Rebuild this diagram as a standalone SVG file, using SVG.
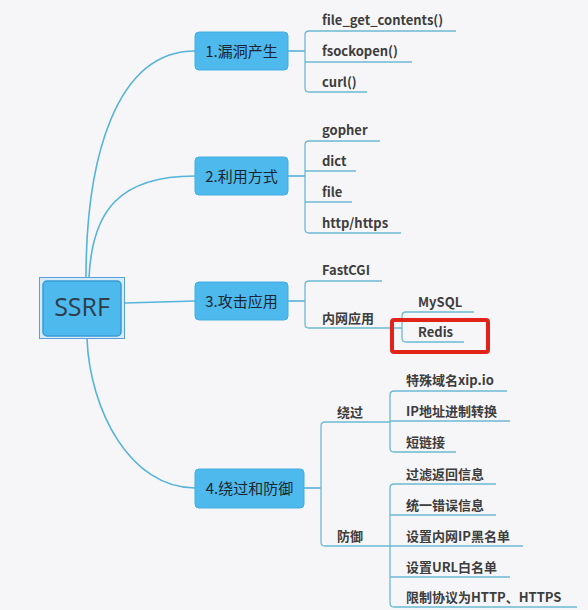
<svg xmlns="http://www.w3.org/2000/svg" width="588" height="610" viewBox="0 0 588 610">
<style>
.bg{fill:#f6f6f8}
.box{fill:#4db9ec;stroke:#45ace0;stroke-width:1}
.bt{font-family:"Noto Sans CJK SC","Noto Sans",sans-serif;font-size:15px;fill:#1c2630;text-anchor:middle}
.lt{font-family:"Noto Sans CJK SC","Noto Sans",sans-serif;font-size:13px;font-weight:bold;fill:#3d3d3d}
.con{fill:none;stroke:#56b3d9;stroke-width:1.6}
.ul{fill:none;stroke:#6cb9d4;stroke-width:1.3}
</style>
<rect class="bg" x="0" y="0" width="588" height="610"/>
<g id="connectors">
  <path class="con" d="M86,278 C86,160 115,51 195,51"/>
  <path class="con" d="M89,278 C92,210 120,176 195,176"/>
  <path class="con" d="M125,303 L195,301"/>
  <path class="con" d="M87,339 C90,410 130,488 195,488"/>
  <path class="con" d="M288,51 H305"/>
  <path class="con" d="M288,176 H305"/>
  <path class="con" d="M288,301 H305"/>
  <path class="con" d="M304,488 H321"/>
  <!-- bracket 1 -->
  <path class="ul" d="M456,31 H309 Q305,31 305,35 V88 Q305,92 309,92 H367"/>
  <path class="ul" d="M305,62 H412"/>
  <!-- bracket 2 -->
  <path class="ul" d="M380,141 H309 Q305,141 305,145 V229 Q305,233 309,233 H401"/>
  <path class="ul" d="M305,171 H356"/>
  <path class="ul" d="M305,202 H352"/>
  <!-- bracket 3 -->
  <path class="ul" d="M382,281 H309 Q305,281 305,285 V324 Q305,328 309,328 H402"/>
  <path class="ul" d="M474,312 H406 Q402,312 402,316 V338 Q402,342 406,342 H464"/>
  <!-- bracket 4 -->
  <path class="ul" d="M390,422 H325 Q321,422 321,426 V542 Q321,546 325,546 H390"/>
  <path class="ul" d="M507,391 H394 Q390,391 390,395 V448 Q390,452 394,452 H456"/>
  <path class="ul" d="M390,421 H510"/>
  <path class="ul" d="M496,484 H394 Q390,484 390,488 V603 Q390,607 394,607 H577"/>
  <path class="ul" d="M390,515 H496"/>
  <path class="ul" d="M390,546 H523"/>
  <path class="ul" d="M390,577 H510"/>
</g>
<g id="root">
  <rect x="39.5" y="277.5" width="85" height="61" fill="#d6ebf8" stroke="#5a9fdc" stroke-width="1"/>
  <rect x="43" y="281" width="78" height="55" rx="4" fill="#4db9ec" stroke="#3a9ad6" stroke-width="1.5"/>
  <text x="82" y="316" font-family="'Open Sans','Noto Sans',sans-serif" font-size="25" fill="#2f3d4a" text-anchor="middle">SSRF</text>
</g>
<g id="n1">
  <rect class="box" x="195" y="32" width="93" height="38" rx="4"/>
  <text class="bt" x="241.5" y="56.5">1.漏洞产生</text>
</g>
<g id="n2">
  <rect class="box" x="195" y="157" width="93" height="38" rx="4"/>
  <text class="bt" x="241.5" y="181.5">2.利用方式</text>
</g>
<g id="n3">
  <rect class="box" x="195" y="282" width="93" height="38" rx="4"/>
  <text class="bt" x="241.5" y="306.5">3.攻击应用</text>
</g>
<g id="n4">
  <rect class="box" x="195" y="469" width="109" height="39" rx="4"/>
  <text class="bt" x="249.5" y="493.5">4.绕过和防御</text>
</g>
<g id="leaves1">
  <text class="lt" x="322" y="25">file_get_contents()</text>
  <text class="lt" x="322" y="56">fsockopen()</text>
  <text class="lt" x="322" y="87">curl()</text>
</g>
<g id="leaves2">
  <text class="lt" x="322" y="135">gopher</text>
  <text class="lt" x="322" y="166">dict</text>
  <text class="lt" x="322" y="197">file</text>
  <text class="lt" x="322" y="228">http/https</text>
</g>
<g id="leaves3">
  <text class="lt" x="322" y="275">FastCGI</text>
  <text class="lt" x="322" y="323" font-weight="normal">内网应用</text>
  <text class="lt" x="418" y="307">MySQL</text>
  <text class="lt" x="418" y="337">Redis</text>
  <rect x="392" y="320" width="96" height="32" rx="2" fill="none" stroke="#e2231a" stroke-width="4"/>
</g>
<g id="leaves4">
  <text class="lt" x="337" y="417" font-weight="normal">绕过</text>
  <text class="lt" x="337" y="541" font-weight="normal">防御</text>
  <text class="lt" x="406" y="385">特殊域名xip.io</text>
  <text class="lt" x="406" y="416">IP地址进制转换</text>
  <text class="lt" x="406" y="447">短链接</text>
  <text class="lt" x="406" y="479">过滤返回信息</text>
  <text class="lt" x="406" y="510">统一错误信息</text>
  <text class="lt" x="406" y="541">设置内网IP黑名单</text>
  <text class="lt" x="406" y="572">设置URL白名单</text>
  <text class="lt" x="406" y="602">限制协议为HTTP、HTTPS</text>
</g>
</svg>
